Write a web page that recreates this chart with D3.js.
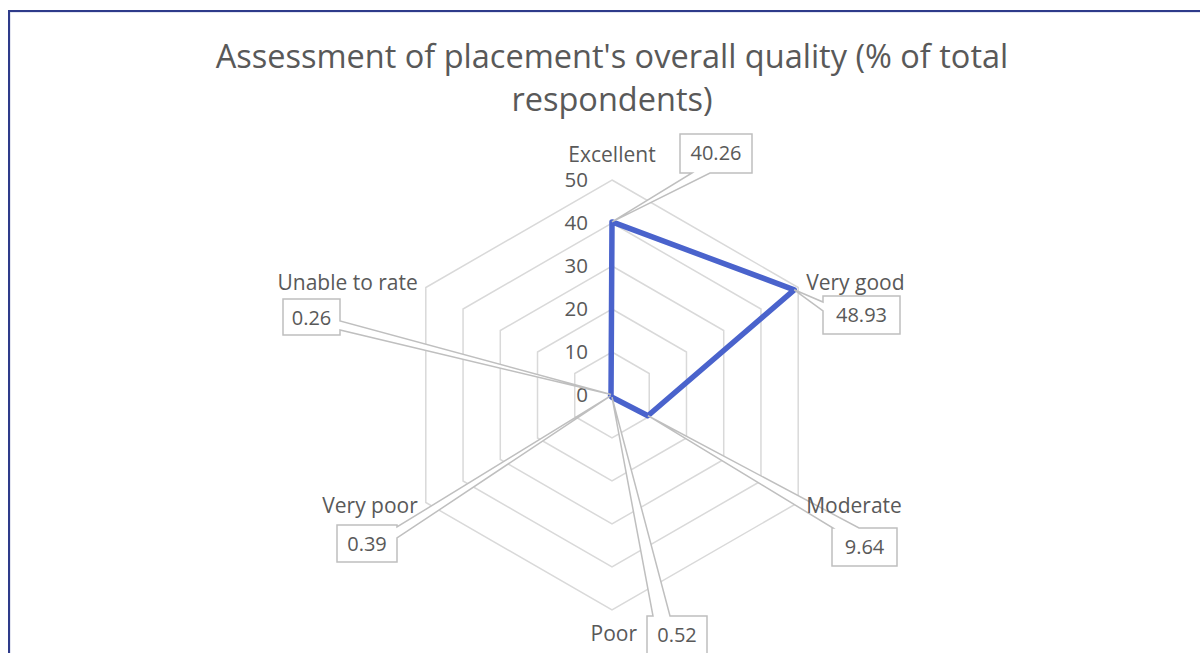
<!DOCTYPE html>
<html>
<head>
<meta charset="utf-8">
<script src="https://cdn.jsdelivr.net/npm/d3@7"></script>
<style>
  body { margin: 0; background: #fff; }
  svg { display: block; }
  text { font-family: "Open Sans", "Noto Sans", sans-serif; fill: #595959; }
</style>
</head>
<body>
<script>
// categories and % of respondents
var categories = ["Excellent", "Very good", "Moderate", "Poor", "Very poor", "Unable to rate"];
var values = [40.26, 48.93, 9.64, 0.52, 0.39, 0.26];
var ticks = [0, 10, 20, 30, 40, 50];

// where each category name sits, relative to its outer vertex
var catOffsets = [
    { dx: 0, dy: -18, anchor: "middle" },
    { dx: 8, dy: 2, anchor: "start" },
    { dx: 8, dy: 10, anchor: "start" },
    { dx: 25, dy: 31, anchor: "end" },
    { dx: -8, dy: 10, anchor: "end" },
    { dx: -8, dy: 2, anchor: "end" }
];

// callout boxes for data labels (box + where the tail leaves the box)
var callouts = [
    { x: 680, y: 134, w: 72, h: 39, side: "bottom", a: 12, b: 30 },
    { x: 823, y: 296, w: 77, h: 38, side: "left", a: 6, b: 15 },
    { x: 832, y: 528, w: 65, h: 38, side: "top", a: 1, b: 27 },
    { x: 647, y: 616, w: 60, h: 42, side: "top", a: 6, b: 23 },
    { x: 337, y: 525, w: 60, h: 37, side: "right", a: 2, b: 13 },
    { x: 283, y: 299, w: 57, h: 36, side: "right", a: 22, b: 31 }
];

var width = 1200, height = 653;
var cx = 612, cy = 395;

var svg = d3.select("body")
    .append("svg")
    .attr("width", width)
    .attr("height", height);

// chart area border
svg.append("rect")
    .attr("x", 10).attr("y", 12)
    .attr("width", 1200).attr("height", 700)
    .attr("fill", "none")
    .attr("stroke", "#c9cde3")
    .attr("stroke-width", 1);
svg.append("rect")
    .attr("x", 9).attr("y", 11)
    .attr("width", 1200).attr("height", 700)
    .attr("fill", "none")
    .attr("stroke", "#2e3b8a")
    .attr("stroke-width", 2);

// title
var title = svg.append("text")
    .attr("text-anchor", "middle")
    .attr("font-size", 32.5);
title.append("tspan").attr("x", 612).attr("y", 68).text("Assessment of placement's overall quality (% of total");
title.append("tspan").attr("x", 612).attr("y", 111).text("respondents)");

var r = d3.scaleLinear().domain([0, 50]).range([0, 215]);
var angle = d3.scalePoint().domain(categories).range([0, 2 * Math.PI * 5 / 6]);

var g = svg.append("g").attr("transform", "translate(" + cx + "," + cy + ")");

function pt(cat, v) {
    var a = angle(cat);
    return [Math.sin(a) * r(v), -Math.cos(a) * r(v)];
}

// grid rings
g.selectAll(".ring")
    .data(ticks.slice(1))
    .enter()
    .append("path")
    .attr("class", "ring")
    .attr("d", function(t) {
        return d3.line()(categories.map(function(c) { return pt(c, t); })) + "Z";
    })
    .attr("fill", "none")
    .attr("stroke", "#d9d9d9")
    .attr("stroke-width", 1.5);

// tick labels along the top axis
g.selectAll(".tick")
    .data(ticks)
    .enter()
    .append("text")
    .attr("class", "tick")
    .attr("x", -24)
    .attr("y", function(t) { return -r(t); })
    .attr("dy", "0.35em")
    .attr("text-anchor", "end")
    .attr("font-size", 20.5)
    .text(function(t) { return t; });

// data line
var radial = d3.lineRadial()
    .angle(function(d) { return angle(d.cat); })
    .radius(function(d) { return r(d.v); })
    .curve(d3.curveLinearClosed);

var series = categories.map(function(c, i) { return { cat: c, v: values[i] }; });

g.append("path")
    .attr("d", radial(series))
    .attr("fill", "none")
    .attr("stroke", "#4a63cc")
    .attr("stroke-width", 5.5)
    .attr("stroke-linejoin", "round");

// callout shapes
function calloutPath(box, tip) {
    var x0 = box.x - cx, y0 = box.y - cy, x1 = x0 + box.w, y1 = y0 + box.h;
    var p = [];
    p.push([x0, y0]);
    if (box.side === "top") { p.push([x0 + box.a, y0], tip, [x0 + box.b, y0]); }
    p.push([x1, y0]);
    if (box.side === "right") { p.push([x1, y0 + box.a], tip, [x1, y0 + box.b]); }
    p.push([x1, y1]);
    if (box.side === "bottom") { p.push([x0 + box.b, y1], tip, [x0 + box.a, y1]); }
    p.push([x0, y1]);
    if (box.side === "left") { p.push([x0, y0 + box.b], tip, [x0, y0 + box.a]); }
    return d3.line()(p) + "Z";
}

var labels = g.selectAll(".callout")
    .data(series)
    .enter()
    .append("g")
    .attr("class", "callout");

labels.append("path")
    .attr("d", function(d, i) { return calloutPath(callouts[i], pt(d.cat, d.v)); })
    .attr("fill", "#fff")
    .attr("stroke", "#bfbfbf")
    .attr("stroke-width", 1.5);

labels.append("text")
    .attr("x", function(d, i) { return callouts[i].x - cx + callouts[i].w / 2; })
    .attr("y", function(d, i) { return callouts[i].y - cy + 19; })
    .attr("dy", "0.35em")
    .attr("text-anchor", "middle")
    .attr("font-size", 20)
    .text(function(d) { return d.v.toFixed(2); });

// category names (on top of the callout tails)
g.selectAll(".cat")
    .data(categories)
    .enter()
    .append("text")
    .attr("class", "cat")
    .attr("x", function(c, i) { return pt(c, 50)[0] + catOffsets[i].dx; })
    .attr("y", function(c, i) { return pt(c, 50)[1] + catOffsets[i].dy; })
    .attr("text-anchor", function(c, i) { return catOffsets[i].anchor; })
    .attr("font-size", 21)
    .text(function(c) { return c; });
</script>
</body>
</html>
